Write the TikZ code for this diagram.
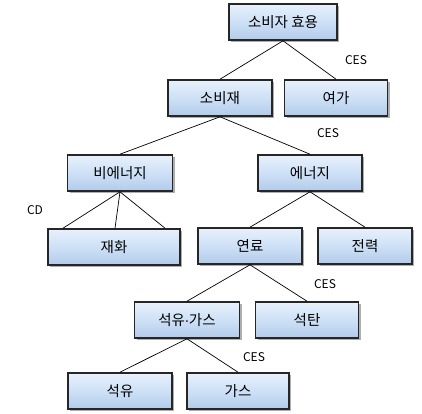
\documentclass[tikz,border=0pt]{standalone}
\usepackage{fontspec}
\setmainfont{Noto Sans CJK KR}
\newfontfamily\latinfont{Liberation Sans}
\usetikzlibrary{shadows}
\definecolor{boxtop}{RGB}{232,241,252}
\definecolor{boxmid}{RGB}{205,224,246}
\definecolor{boxbot}{RGB}{178,203,234}
\tikzset{
  box/.style={draw=black!85, line width=1.6pt, minimum height=36pt, inner sep=0pt,
    top color=boxtop, bottom color=boxbot, middle color=boxmid,
    font=\fontsize{14.5}{16}\selectfont,
    drop shadow={shadow xshift=2.4pt, shadow yshift=-2.4pt, fill=black!45, opacity=.7}},
  lbl/.style={font=\fontsize{12}{14}\selectfont, inner sep=0pt},
  edge/.style={draw=black, line width=0.7pt}
}
\begin{document}
\begin{tikzpicture}[x=1pt,y=-1pt]
\useasboundingbox[fill=white] (0,0) rectangle (422,413);
\node[box, minimum width=108pt] (util) at (283,22) {소비자 효용};
\node[box, minimum width=104pt] (cons) at (220,98) {소비재};
\node[box, minimum width=103pt] (leis) at (336,98) {여가};
\node[box, minimum width=105pt] (nonen) at (120,173) {비에너지};
\node[box, minimum width=104pt] (ener) at (310,173) {에너지};
\node[box, minimum width=132pt] (goods) at (114,247) {재화};
\node[box, minimum width=104pt] (fuel) at (250,246) {연료};
\node[box, minimum width=94pt] (elec) at (365,246) {전력};
\node[box, minimum width=105pt] (oilgas) at (187,320) {석유{\latinfont\kern-0.5pt·\kern-0.5pt}가스};
\node[box, minimum width=103pt] (coal) at (307,320) {석탄};
\node[box, minimum width=104pt] (oil) at (120,391) {석유};
\node[box, minimum width=102pt] (gas) at (238,391) {가스};

\node[lbl] (ces1) at (356,60) {CES};
\node[lbl] (ces2) at (328,133) {CES};
\node[lbl] (cd) at (35,210) {CD};
\node[lbl] (ces3) at (325,284) {CES};
\node[lbl] (ces4) at (254,357) {CES};

\draw[edge] (util.south) -- (cons.north);
\draw[edge] (util.south) -- (leis.north);
\draw[edge] (cons.south) -- (nonen.north);
\draw[edge] (cons.south) -- (ener.north);
\draw[edge] (nonen.south) -- ([xshift=-51pt]goods.north);
\draw[edge] (nonen.south) -- ([xshift=1pt]goods.north);
\draw[edge] (nonen.south) -- ([xshift=51pt]goods.north);
\draw[edge] (ener.south) -- (fuel.north);
\draw[edge] (ener.south) -- (elec.north);
\draw[edge] (fuel.south) -- (oilgas.north);
\draw[edge] (fuel.south) -- (coal.north);
\draw[edge] (oilgas.south) -- (oil.north);
\draw[edge] (oilgas.south) -- (gas.north);
\end{tikzpicture}
\end{document}
